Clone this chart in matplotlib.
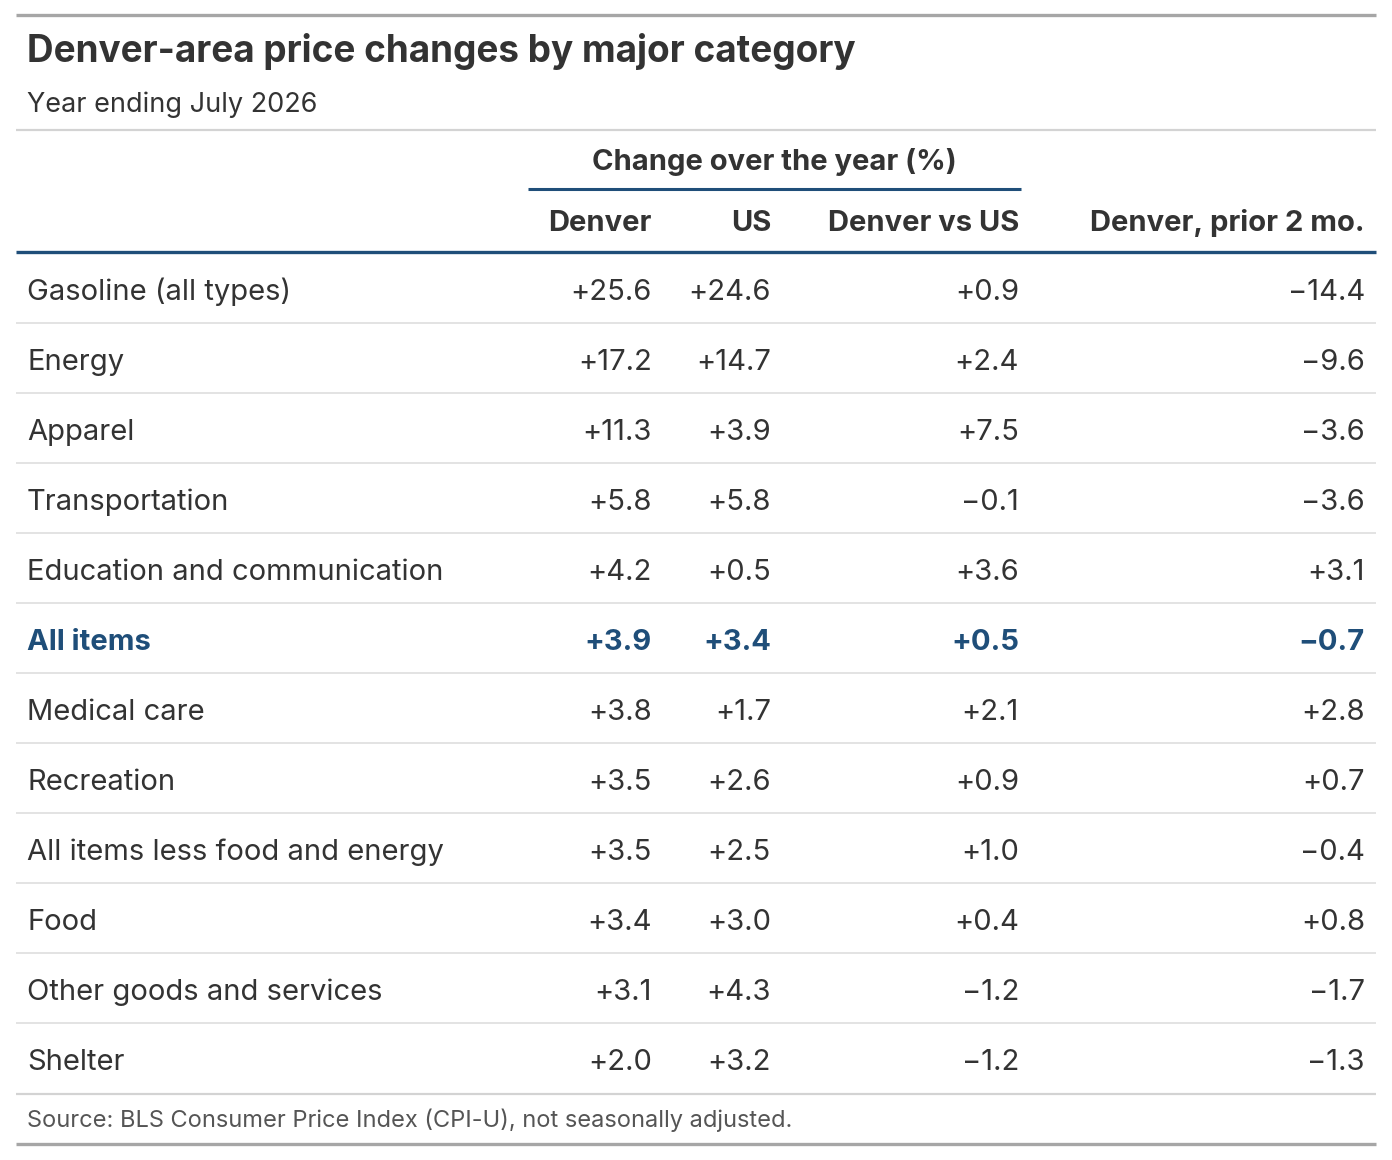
import matplotlib
matplotlib.use("Agg")
import matplotlib.pyplot as plt

plt.rcParams['font.family'] = ['Inter', 'DejaVu Sans']

# table data
categories = ["Gasoline (all types)", "Energy", "Apparel", "Transportation",
              "Education and communication", "All items", "Medical care",
              "Recreation", "All items less food and energy", "Food",
              "Other goods and services", "Shelter"]
denver = [25.6, 17.2, 11.3, 5.8, 4.2, 3.9, 3.8, 3.5, 3.5, 3.4, 3.1, 2.0]
us = [24.6, 14.7, 3.9, 5.8, 0.5, 3.4, 1.7, 2.6, 2.5, 3.0, 4.3, 3.2]
denver_vs_us = [0.9, 2.4, 7.5, -0.1, 3.6, 0.5, 2.1, 0.9, 1.0, 0.4, -1.2, -1.2]
denver_prior = [-14.4, -9.6, -3.6, -3.6, 3.1, -0.7, 2.8, 0.7, -0.4, 0.8, -1.7, -1.3]
col_labels = ["Denver", "US", "Denver vs US", "Denver, prior 2 mo."]
spanner = "Change over the year (%)"
highlight = "All items"

title = "Denver-area price changes by major category"
subtitle = "Year ending July 2026"
source = "Source: BLS Consumer Price Index (CPI-U), not seasonally adjusted."

TEXT = "#333333"
BLUE = "#1f4e79"
W, H = 1392, 1160

fig = plt.figure(figsize=(W / 100, H / 100), dpi=100)
ax = fig.add_axes([0, 0, 1, 1])
ax.set_xlim(0, W)
ax.set_ylim(H, 0)
ax.axis("off")

def fmt(v):
    return f"{v:+.1f}".replace("-", "\u2212")

L, R = 16, 1376
col_x = [652, 771, 1019, 1365]
BODY = 21

# frame lines
ax.plot([L, R], [15, 15], color="#a6a6a6", lw=2.4, solid_capstyle="butt")
ax.plot([L, R], [130, 130], color="#d3d3d3", lw=1.6, solid_capstyle="butt")
ax.plot([528, 1021], [189, 189], color=BLUE, lw=2.2, solid_capstyle="butt")
ax.plot([L, R], [252, 252], color=BLUE, lw=2.4, solid_capstyle="butt")

ax.text(27, 62, title, fontsize=26.6, fontweight="bold", color=TEXT, va="baseline")
ax.text(27, 112, subtitle, fontsize=19.5, color=TEXT, va="baseline")

ax.text((528 + 1021) / 2, 170, spanner, fontsize=BODY, fontweight="bold",
        color=TEXT, ha="center", va="baseline")
for x, lab in zip(col_x, col_labels):
    ax.text(x, 231, lab, fontsize=BODY, fontweight="bold", color=TEXT,
            ha="right", va="baseline")

row_h = 70
y0 = 290
for i, cat in enumerate(categories):
    y = y0 + i * row_h
    hl = cat == highlight
    c = BLUE if hl else TEXT
    fw = "bold" if hl else "normal"
    ax.text(27, y + 10, cat, fontsize=BODY, color=c, fontweight=fw, va="baseline")
    vals = [denver[i], us[i], denver_vs_us[i], denver_prior[i]]
    for x, v in zip(col_x, vals):
        ax.text(x, y + 10, fmt(v), fontsize=BODY, color=c, fontweight=fw,
                ha="right", va="baseline")
    if i < len(categories) - 1:
        ax.plot([L, R], [y + 33, y + 33], color="#e3e3e3", lw=1.4,
                solid_capstyle="butt")

yb = y0 + (len(categories) - 1) * row_h + 34
ax.plot([L, R], [yb, yb], color="#d3d3d3", lw=1.6, solid_capstyle="butt")
ax.text(27, 1127, source, fontsize=17, color="#555555", va="baseline")
ax.plot([L, R], [1144, 1144], color="#a6a6a6", lw=2.4, solid_capstyle="butt")

fig.savefig("out.png", dpi=100, facecolor="white")
